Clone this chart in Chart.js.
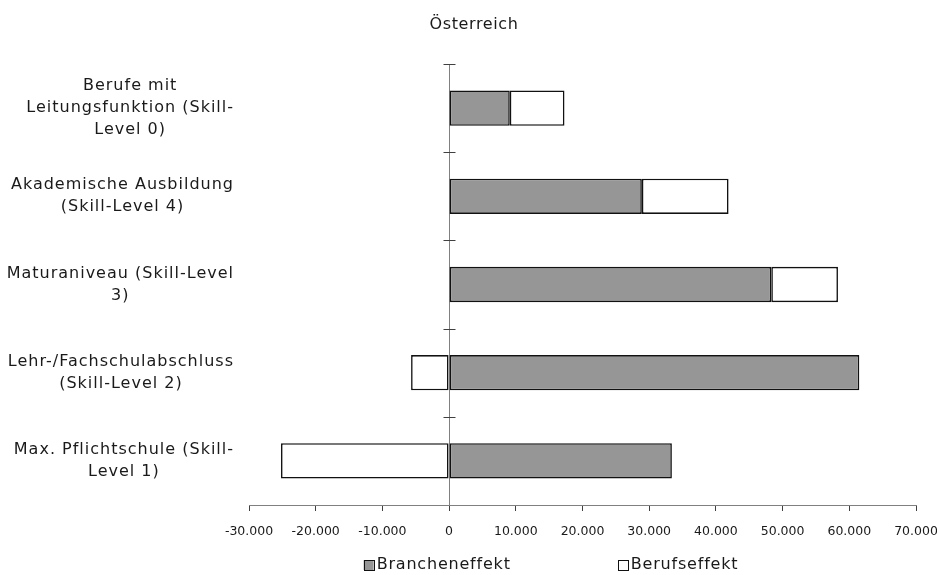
<!DOCTYPE html>
<html>
<head>
<meta charset="utf-8">
<style>
  html, body { margin: 0; padding: 0; background: #ffffff; }
  #wrap { width: 937px; height: 575px; position: relative; }
</style>
</head>
<body>
<div id="wrap"><canvas id="chart"></canvas></div>
<script src="https://cdn.jsdelivr.net/npm/chart.js@4/dist/chart.umd.min.js"></script>
<script>
// Skill levels (multi-line labels, drawn centred inside a right-aligned block)
const categories = [
  ['Berufe mit', 'Leitungsfunktion (Skill-', 'Level 0)'],
  ['Akademische Ausbildung', '(Skill-Level 4)'],
  ['Maturaniveau (Skill-Level', '3)'],
  ['Lehr-/Fachschulabschluss', '(Skill-Level 2)'],
  ['Max. Pflichtschule (Skill-', 'Level 1)']
];
const seriesNames = ['Brancheneffekt', 'Berufseffekt'];
const brancheneffekt = [9100, 28900, 48300, 61500, 33400];
const berufseffekt = [8200, 13000, 10000, -5700, -25200];
const xMin = -30000;
const xMax = 70000;
const xStep = 10000;
const chartTitle = 'Österreich';

const FONT = "'DejaVu Sans', sans-serif";
const INK = '#1a1a1a';
const AXIS = '#808080';

Chart.defaults.font.family = FONT;
Chart.defaults.color = INK;

function setSpacing(ctx, px) {
  if ('letterSpacing' in ctx) ctx.letterSpacing = px + 'px';
}

// Category labels, title, legend and the small cross ticks on the zero line
const decorations = {
  id: 'decorations',
  beforeDraw(chart) {
    setSpacing(chart.ctx, 0);
  },
  afterDraw(chart) {
    const { ctx, scales: { x, y } } = chart;
    ctx.save();

    // cross ticks at the category boundaries along the zero line
    const x0 = Math.round(x.getPixelForValue(0)) + 0.5;
    const band = y.getPixelForValue(1) - y.getPixelForValue(0);
    ctx.strokeStyle = '#404040';
    ctx.lineWidth = 1;
    for (let i = 0; i < categories.length; i++) {
      const yy = Math.round(y.getPixelForValue(i) - band / 2) + 0.5;
      ctx.beginPath();
      ctx.moveTo(x0 - 6, yy);
      ctx.lineTo(x0 + 6, yy);
      ctx.stroke();
    }

    // category labels
    ctx.font = '16px ' + FONT;
    setSpacing(ctx, 1.0);
    ctx.fillStyle = INK;
    ctx.textAlign = 'center';
    ctx.textBaseline = 'middle';
    const labelRight = 234;
    const lineH = 22;
    categories.forEach((lines, i) => {
      const w = Math.max(...lines.map(l => ctx.measureText(l).width));
      const cx = labelRight - w / 2;
      const cy = y.getPixelForValue(i);
      lines.forEach((l, j) => {
        ctx.fillText(l, cx, cy + (j - (lines.length - 1) / 2) * lineH);
      });
    });

    // title
    setSpacing(ctx, 0.6);
    ctx.fillText(chartTitle, 474, 25);

    // legend
    setSpacing(ctx, 0.8);
    ctx.textAlign = 'left';
    const box = 10, gap = 3, itemGap = 107, legendY = 565, legendCenter = 551;
    const items = chart.data.datasets.map(ds => ({
      ds, w: ctx.measureText(ds.label).width
    }));
    const total = items.reduce((s, it) => s + box + gap + it.w, 0) + itemGap * (items.length - 1);
    let lx = legendCenter - total / 2;
    items.forEach(it => {
      ctx.fillStyle = it.ds.backgroundColor;
      ctx.fillRect(lx, legendY - box / 2, box, box);
      ctx.strokeStyle = it.ds.borderColor;
      ctx.lineWidth = 1;
      ctx.strokeRect(Math.round(lx) + 0.5, Math.round(legendY - box / 2) + 0.5, box, box);
      ctx.fillStyle = INK;
      ctx.fillText(it.ds.label, lx + box + gap, legendY);
      lx += box + gap + it.w + itemGap;
    });

    setSpacing(ctx, 0);
    ctx.restore();
    setSpacing(ctx, 0);
  }
};

const barStyle = {
  borderColor: '#111111',
  borderWidth: 1.6,
  borderSkipped: false,
  categoryPercentage: 0.4,
  barPercentage: 1.0
};

new Chart(document.getElementById('chart'), {
  type: 'bar',
  data: {
    labels: categories,
    datasets: [
      Object.assign({ label: seriesNames[0], data: brancheneffekt, backgroundColor: '#969696' }, barStyle),
      Object.assign({ label: seriesNames[1], data: berufseffekt, backgroundColor: '#ffffff' }, barStyle)
    ]
  },
  options: {
    indexAxis: 'y',
    responsive: true,
    maintainAspectRatio: false,
    animation: false,
    devicePixelRatio: 1,
    layout: { padding: { left: 249, right: 0, top: 64, bottom: 23 } },
    plugins: {
      legend: { display: false },
      title: { display: false },
      tooltip: { enabled: false }
    },
    scales: {
      x: {
        type: 'linear',
        stacked: true,
        min: xMin,
        max: xMax,
        afterFit(scale) { scale.paddingRight = 21; },
        ticks: {
          stepSize: xStep,
          padding: 13,
          color: INK,
          font: { size: 12.5 },
          callback: v => v === 0 ? '0' : v.toLocaleString('de-DE')
        },
        grid: {
          drawOnChartArea: true,
          color: c => (c.tick && c.tick.value === 0) ? AXIS : 'rgba(0,0,0,0)',
          tickColor: '#404040',
          tickLength: 6,
          lineWidth: 1
        },
        border: { display: true, color: AXIS, width: 1 }
      },
      y: {
        type: 'category',
        stacked: true,
        display: false,
        offset: true
      }
    }
  },
  plugins: [decorations]
});
</script>
</body>
</html>
